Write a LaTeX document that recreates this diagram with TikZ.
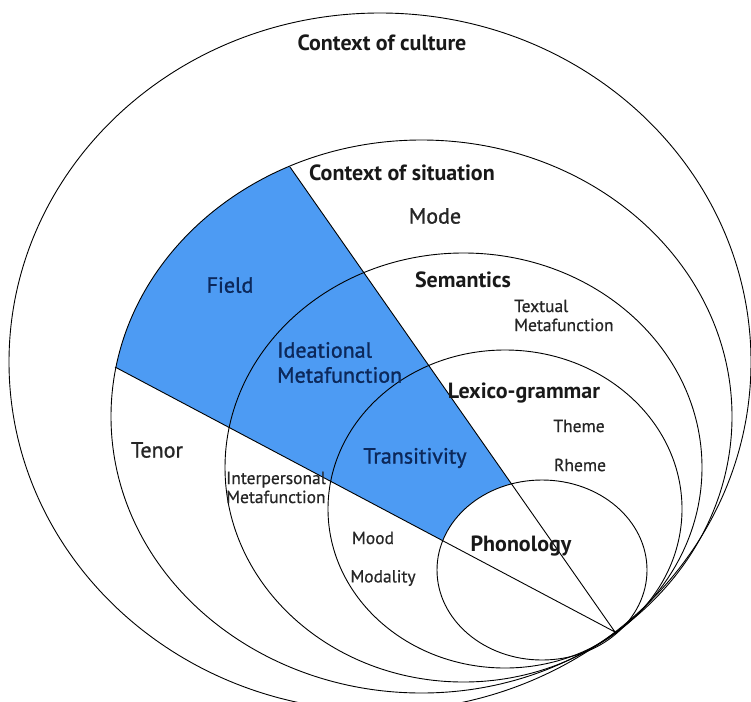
\documentclass[tikz,border=0pt]{standalone}
\usepackage{fontspec}
\setmainfont{PT Sans}
\newfontfamily\areafont[FakeBold=1.2]{PT Sans}
\newfontfamily\subfont[FakeBold=0.6]{PT Sans}
\usetikzlibrary{calc}
\definecolor{fieldblue}{RGB}{77,155,243}
\definecolor{fieldtext}{RGB}{12,40,90}
\tikzset{
    layer/.style={draw=black, line width=0.9pt},
    headtext/.style={inner sep=0pt, text=black!90, font=\bfseries\fontsize{22}{24}\selectfont},
    areatext/.style={inner sep=0pt, align=left, text=black!85, font=\areafont\fontsize{22}{25}\selectfont},
    subtext/.style={inner sep=0pt, align=left, text=black!85, font=\subfont\fontsize{17.5}{19}\selectfont}
}
\begin{document}
\begin{tikzpicture}[x=1pt,y=-1pt]
        \useasboundingbox (0,0) rectangle (751,701);
        \coordinate (T) at (615,632);
        \coordinate (P1) at (290,167);
        \coordinate (P2) at (115,367);
        % blue sector of the field
        \begin{scope}
            \clip (421.5,416.5) ellipse [x radius=310.5pt, y radius=276.5pt];
            \fill[fieldblue] (T) -- ($(T)!2!(P1)$) -- ($(T)!2!(P2)$) -- cycle;
        \end{scope}
        \fill[white] (542,570) ellipse [x radius=105pt, y radius=90pt];
        % the five layers
        \foreach \cx/\cy/\rx/\ry in {380/362/371/349, 421.5/416.5/310.5/276.5,
                                     463.5/467.5/238.5/214.5, 505/509/177/159, 542/570/105/90}
            {
                \draw[layer] (\cx,\cy) ellipse [x radius=\rx pt, y radius=\ry pt];
            }
        \draw[layer] (P1) -- (T) -- (P2);
        % labels
        \node[headtext] (culture) at (382,43) {Context of culture};
        \node[headtext] (situation) at (402,173) {Context of situation};
        \node[areatext] (mode) at (435,216) {Mode};
        \node[areatext, text=fieldtext] (field) at (230,285) {Field};
        \node[headtext] (semantics) at (463,280) {Semantics};
        \node[subtext, anchor=west] (textual) at (514,315.5) {Textual\\Metafunction};
        \node[areatext, text=fieldtext, anchor=west] (ideational) at (277,362.5) {Ideational\\Metafunction};
        \node[headtext] (lexico) at (524,393) {Lexico-grammar};
        \node[subtext] (theme) at (579,426) {Theme};
        \node[subtext] (rheme) at (580,465) {Rheme};
        \node[areatext] (tenor) at (157,450) {Tenor};
        \node[subtext, anchor=west] (interpersonal) at (226,487.5) {Interpersonal\\Metafunction};
        \node[areatext, text=fieldtext] (transitivity) at (415,458) {Transitivity};
        \node[subtext] (mood) at (373,538) {Mood};
        \node[subtext] (modality) at (383,578) {Modality};
        \node[headtext] (phonology) at (521,546) {Phonology};
\end{tikzpicture}
\end{document}
